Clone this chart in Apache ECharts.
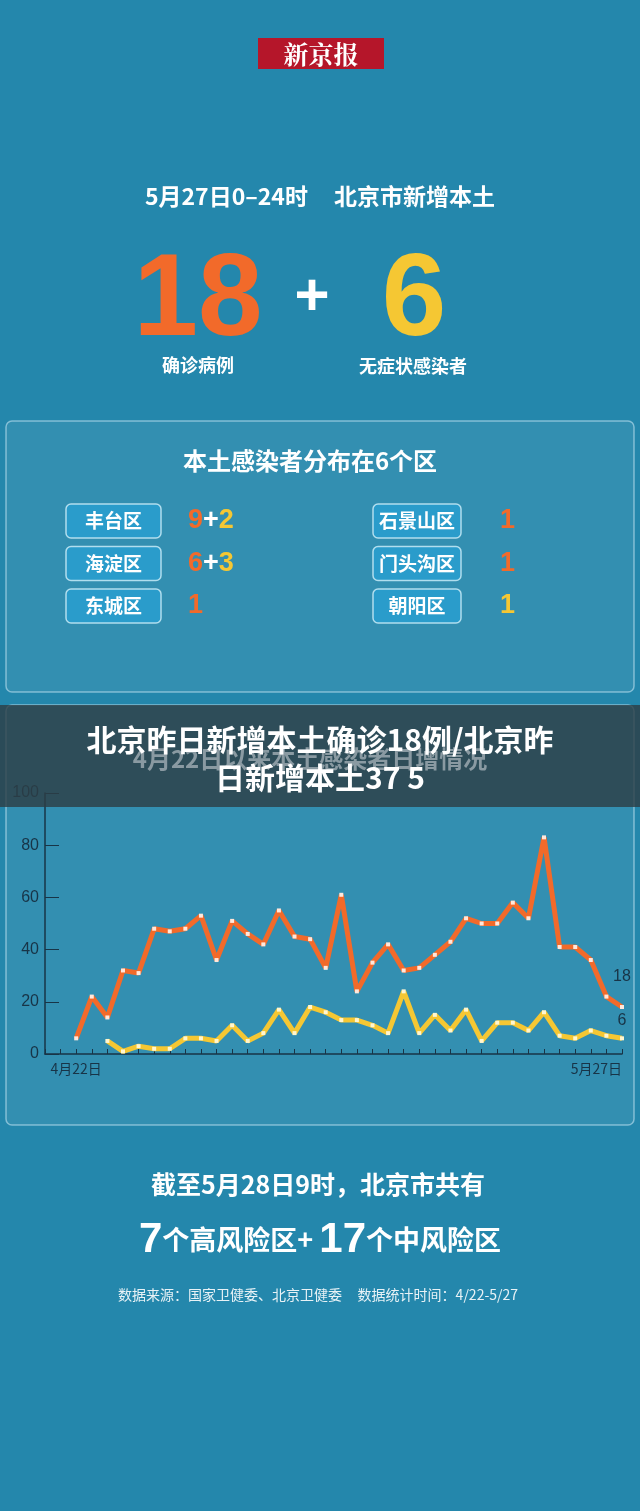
<!DOCTYPE html>
<html><head><meta charset="utf-8">
<script src="https://cdn.jsdelivr.net/npm/echarts@6/dist/echarts.min.js"></script>
<style>html,body{margin:0;padding:0;background:#2487ac}#c{width:640px;height:1511px}</style>
</head><body><div id="c"></div>
<script>
// 4/22 - 5/27 日增
var days = [];
for (var d = 22; d <= 30; d++) days.push('4月' + d + '日');
for (var d = 1; d <= 27; d++) days.push('5月' + d + '日');
var confirmed = [6,22,14,32,31,48,47,48,53,36,51,46,42,55,45,44,33,61,24,35,42,32,33,38,43,52,50,50,58,52,83,41,41,36,22,18];
var asymptomatic = [null,null,5,1,3,2,2,6,6,5,11,5,8,17,8,18,16,13,13,11,8,24,8,15,9,17,5,12,12,9,16,7,6,9,7,6];
var yTicks = [0,20,40,60,80,100];
var districtsL = [['丰台区','9','2'],['海淀区','6','3'],['东城区','1',null]];
var districtsR = [['石景山区','1',null],['门头沟区','1',null],['朝阳区',null,'1']];

var ORANGE = '#f26a2a', YELLOW = '#f5c733', FONT = '"Noto Sans CJK SC", sans-serif';
var NUMFONT = '"Liberation Sans", Arial, sans-serif';

function pts(arr, dist) {
  return arr.map(function (v, i) {
    if (v == null) return [i, null];
    var item = { value: [i, v] };
    if (i === arr.length - 1) item.label = { show: true, position: 'top', distance: dist, color: '#183447', fontSize: 16, formatter: String(v) };
    return item;
  });
}

function txt(x, y, text, size, color, extra) {
  var s = { x: x, y: y, text: text, fontSize: size, fill: color || '#fff', fontWeight: 'bold',
    fontFamily: FONT, align: 'center', verticalAlign: 'middle' };
  for (var k in extra) s[k] = extra[k];
  return { type: 'text', style: s, z: 10 };
}

var rich = { o: { fill: ORANGE, fontSize: 27, fontWeight: 'bold', fontFamily: NUMFONT },
  w: { fill: '#fff', fontSize: 27, fontWeight: 'bold', fontFamily: NUMFONT },
  y: { fill: YELLOW, fontSize: 27, fontWeight: 'bold', fontFamily: NUMFONT } };

var g = [
  { type: 'rect', shape: { x: 258, y: 38, width: 126, height: 31 }, style: { fill: '#b5162a' } },
  txt(321, 54, '新京报', 25, '#fff', { fontFamily: '"Noto Serif CJK SC", "Noto Sans CJK SC", serif' }),
  txt(320, 196, '5月27日0–24时     北京市新增本土', 23),
  txt(198, 303, '18', 116, ORANGE, { fontFamily: NUMFONT }),
  txt(312, 298, '+', 60, '#fff', { fontFamily: NUMFONT }),
  txt(414, 303, '6', 116, YELLOW, { fontFamily: NUMFONT }),
  txt(198, 365, '确诊病例', 18),
  txt(413, 366, '无症状感染者', 18),
  { type: 'rect', shape: { x: 6, y: 421, width: 628, height: 271, r: 6 }, style: { fill: 'rgba(255,255,255,0.07)', stroke: 'rgba(190,225,240,0.6)', lineWidth: 1.5 } },
  txt(310, 461, '本土感染者分布在6个区', 24),
  { type: 'rect', shape: { x: 6, y: 705, width: 628, height: 420, r: 6 }, style: { fill: 'rgba(255,255,255,0.07)', stroke: 'rgba(190,225,240,0.6)', lineWidth: 1.5 } },
  txt(310, 759, '4月22日以来本土感染者日增情况', 24, '#8a9aa2'),
  { type: 'rect', shape: { x: 0, y: 705, width: 640, height: 102 }, style: { fill: 'rgba(45,62,70,0.82)' }, z: 9 },
  txt(320, 740, '北京昨日新增本土确诊18例/北京昨', 30),
  txt(320, 778, '日新增本土37 5', 30),
  txt(318, 1184, '截至5月28日9时，北京市共有', 25),
  { type: 'text', z: 10, style: { x: 320, y: 1240, align: 'center', verticalAlign: 'middle',
    text: '{n|7}{t|个高风险区+ }{n|17}{t|个中风险区}',
    rich: { n: { fontSize: 42, fontWeight: 'bold', fill: '#fff', fontFamily: NUMFONT },
      t: { fontSize: 27, fontWeight: 'bold', fill: '#fff', fontFamily: FONT } } } },
  txt(318, 1295, '数据来源：国家卫健委、北京卫健委     数据统计时间：4/22-5/27', 14, '#e8f2f6', { fontWeight: 'normal' })
];

function district(list, bx, bw, vx) {
  list.forEach(function (d, i) {
    var cy = 521 + i * 42.5;
    g.push({ type: 'rect', shape: { x: bx, y: cy - 17, width: bw, height: 34, r: 5 }, style: { fill: '#2a9ccb', stroke: 'rgba(210,240,250,0.8)', lineWidth: 1.5 }, z: 10 });
    g.push(txt(bx + bw / 2, cy, d[0], 19));
    var t = '';
    if (d[1] != null) t += '{o|' + d[1] + '}';
    if (d[1] != null && d[2] != null) t += '{w|+}';
    if (d[2] != null) t += '{y|' + d[2] + '}';
    g.push({ type: 'text', z: 10, style: { x: vx, y: cy, text: t, rich: rich, verticalAlign: 'middle' } });
  });
}
district(districtsL, 66, 95, 188);
district(districtsR, 373, 88, 500);

var chart = echarts.init(document.getElementById('c'));
chart.setOption({
  backgroundColor: '#2487ac',
  animation: false,
  graphic: g,
  grid: { left: 45, right: 18, top: 793, bottom: 1511 - 1054 },
  xAxis: {
    type: 'value', min: -2, max: 35, interval: 1,
    axisLine: { onZero: false, lineStyle: { color: '#183447', width: 1.5 } },
    axisTick: { lineStyle: { color: '#183447' }, length: 5, inside: true },
    splitLine: { show: false },
    axisLabel: { color: '#183447', fontSize: 14, fontFamily: FONT, showMinLabel: true, showMaxLabel: true,
      alignMaxLabel: 'right',
      formatter: function (v) { return v === 0 || v === 35 ? days[v] : ''; } }
  },
  yAxis: {
    type: 'value', min: 0, max: 100, interval: 20,
    axisLine: { show: true, onZero: false, lineStyle: { color: '#183447', width: 1.5 } },
    axisTick: { show: true, inside: true, length: 14, lineStyle: { color: '#183447' } },
    splitLine: { show: false },
    axisLabel: { color: '#183447', fontSize: 16, margin: 6,
      formatter: function (v) { return yTicks.indexOf(v) >= 0 ? String(v) : ''; } }
  },
  series: [
    { type: 'line', data: pts(confirmed, 20), symbol: 'rect', symbolSize: 4, z: 3,
      lineStyle: { color: ORANGE, width: 5 }, itemStyle: { color: '#ffe8dc' } },
    { type: 'line', data: pts(asymptomatic, 8), symbol: 'rect', symbolSize: 4, z: 2,
      lineStyle: { color: YELLOW, width: 5 }, itemStyle: { color: '#fff6d0' } }
  ]
});
</script></body></html>
